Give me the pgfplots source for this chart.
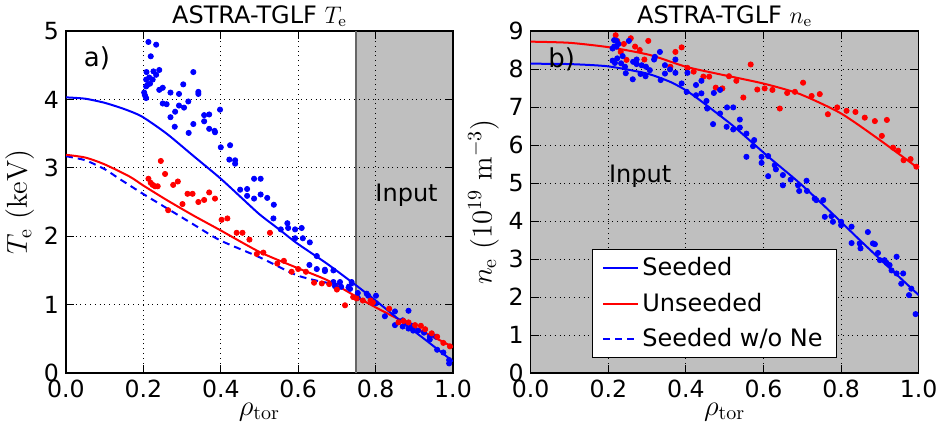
\documentclass[border=0pt]{standalone}
\usepackage[no-math]{fontspec}
\setmainfont{DejaVu Sans}
\usepackage{pgfplots}
\pgfplotsset{compat=1.18}
\definecolor{spangray}{gray}{0.75}
\pgfplotsset{
  myaxis/.style={
    scale only axis, height=171pt,
    xmin=0, xmax=1,
    xtick={0,0.2,0.4,0.6,0.8,1.0},
    xticklabel style={/pgf/number format/fixed, /pgf/number format/fixed zerofill, /pgf/number format/precision=1},
    /pgf/number format/assume math mode=true,
    tick align=inside, major tick length=4pt,
    tick style={black, line width=0.5pt},
    grid=major, major grid style={black, dotted, line width=0.5pt},
    axis line style={line width=0.7pt},
    ticklabel style={font=\fontsize{11.8}{14}\selectfont},
    title style={font=\fontsize{12}{14}\selectfont, yshift=-7.5pt},
    label style={font=\fontsize{14}{16}\selectfont},
    set layers,
  },
  sc/.style={only marks, mark=*, mark size=1.3pt, forget plot},
}
\begin{document}
\begin{tikzpicture}
\begin{axis}[myaxis, width=193.5pt, ymin=0, ymax=5, ytick={0,1,2,3,4,5},
  title={ASTRA-TGLF $T_\mathrm{e}$},
  xlabel={$\rho_\mathrm{tor}$},
  ylabel={$T_\mathrm{e}\ (\mathrm{keV})$},
  ylabel style={yshift=-2pt},
  xlabel style={yshift=4.5pt}]
\addplot[draw=none, fill=spangray, on layer=axis background, forget plot] coordinates {(0.75,0) (0.75,5) (1,5) (1,0)} -- cycle;
\addplot[black!60, line width=1pt, forget plot] coordinates {(0.75,0) (0.75,5)};
% blue data
\addplot[sc, blue] coordinates {
(0.213,4.84) (0.233,4.80) (0.219,4.63) (0.208,4.40) (0.226,4.41) (0.241,4.43) (0.233,4.36)
(0.215,4.32) (0.207,4.29) (0.224,4.29) (0.217,4.23) (0.207,4.19) (0.210,4.21) (0.202,4.10)
(0.204,4.06) (0.207,4.02) (0.241,4.14) (0.250,4.17) (0.270,4.10) (0.292,4.08) (0.303,4.22)
(0.329,4.40) (0.342,4.11) (0.342,4.08) (0.316,3.97) (0.250,3.94) (0.260,3.93) (0.292,3.91)
(0.305,3.88) (0.282,3.82) (0.270,3.74) (0.281,3.60) (0.329,3.64) (0.317,3.51) (0.357,3.77)
(0.370,3.78) (0.357,3.68) (0.370,3.57) (0.384,3.54) (0.385,3.52) (0.398,3.85) (0.424,3.33)
(0.400,3.30) (0.422,3.12) (0.437,3.11) (0.437,3.06) (0.486,2.84) (0.503,2.84) (0.450,2.68)
(0.468,2.69) (0.468,2.59) (0.486,2.55) (0.503,2.61) (0.520,2.56) (0.537,2.46) (0.536,2.26)
(0.555,2.10) (0.572,2.19) (0.574,2.12) (0.592,2.10) (0.609,2.12) (0.592,1.97) (0.612,1.97)
(0.630,1.91) (0.648,1.71) (0.629,1.58) (0.648,1.52) (0.669,1.51) (0.669,1.49) (0.691,1.50)
(0.691,1.33) (0.708,1.33) (0.695,1.27) (0.711,1.26) (0.730,1.25) (0.734,1.23) (0.754,1.17)
(0.754,1.10) (0.738,1.33) (0.777,1.16) (0.781,1.13) (0.801,1.13) (0.801,1.02) (0.824,0.83)
(0.850,0.90) (0.850,0.70) (0.870,0.77) (0.870,0.68) (0.885,0.91) (0.885,0.65) (0.893,0.69)
(0.897,0.69) (0.897,0.62) (0.910,0.62) (0.925,0.59) (0.940,0.53) (0.940,0.49) (0.956,0.53)
(0.959,0.34) (0.975,0.30) (0.990,0.19) (0.990,0.14)
};
% red data
\addplot[sc, red] coordinates {
(0.245,3.10) (0.256,2.91) (0.213,2.84) (0.219,2.78) (0.224,2.75) (0.230,2.73) (0.237,2.73)
(0.277,2.75) (0.289,2.80) (0.264,2.38) (0.301,2.47) (0.314,2.62) (0.327,2.62) (0.342,2.50)
(0.357,2.53) (0.370,2.64) (0.385,2.55) (0.402,2.24) (0.417,2.26) (0.441,2.05) (0.456,2.05)
(0.474,1.95) (0.493,1.74) (0.510,1.76) (0.527,2.05) (0.546,1.60) (0.563,1.64) (0.583,1.48)
(0.600,1.52) (0.620,1.48) (0.641,1.32) (0.661,1.31) (0.680,1.30) (0.700,1.22) (0.721,0.99)
(0.742,1.11) (0.751,1.09) (0.767,1.06) (0.787,1.06) (0.793,1.03) (0.835,0.94) (0.859,0.74)
(0.872,0.76) (0.885,0.74) (0.902,0.70) (0.917,0.69) (0.928,0.64) (0.945,0.58) (0.959,0.53)
(0.975,0.44) (0.992,0.39)
};
% model lines
\addplot[blue, dashed, dash pattern=on 3.5pt off 2.5pt, line width=1pt, smooth, tension=0.4] coordinates {
(0,3.17) (0.05,3.11) (0.10,2.98) (0.135,2.85) (0.196,2.63) (0.269,2.38) (0.33,2.17)
(0.398,1.94) (0.501,1.69) (0.596,1.43) (0.674,1.32) (0.75,1.28)
};
\addplot[red, line width=1pt, smooth, tension=0.4] coordinates {
(0,3.19) (0.05,3.15) (0.10,3.05) (0.165,2.87) (0.20,2.74) (0.26,2.53) (0.33,2.30)
(0.398,2.09) (0.50,1.77) (0.596,1.54) (0.674,1.36) (0.743,1.14) (0.80,0.96) (0.90,0.67) (1.0,0.38)
};
\addplot[blue, line width=1pt, smooth, tension=0.4] coordinates {
(0,4.03) (0.05,4.01) (0.10,3.95) (0.15,3.86) (0.196,3.75) (0.26,3.50) (0.33,3.17)
(0.398,2.85) (0.45,2.58) (0.50,2.32) (0.553,2.09) (0.596,1.90) (0.674,1.60) (0.743,1.31)
(0.80,1.06) (0.863,0.77) (0.93,0.48) (1.0,0.17)
};
\node[font=\fontsize{13}{15}\selectfont] at (axis cs:0.08,4.6) {a)};
\node[font=\fontsize{12}{14}\selectfont] at (axis cs:0.88,2.6) {Input};
\end{axis}

\begin{axis}[myaxis, at={(232.35pt,0)}, width=194pt, ymin=0, ymax=9, ytick={0,1,...,9},
  title={ASTRA-TGLF $n_\mathrm{e}$},
  xlabel={$\rho_\mathrm{tor}$},
  ylabel={$n_\mathrm{e}\ (10^{19}\ \mathrm{m}^{-3})$},
  ylabel style={yshift=-2pt},
  xlabel style={yshift=4.5pt},
  axis background/.style={fill=spangray},
  legend style={at={(rel axis cs:0.157,0.362)}, anchor=north west, draw=black, line width=0.5pt, fill=white,
    font=\fontsize{12}{14}\selectfont, inner xsep=5pt, inner ysep=2pt, row sep=3pt},
  legend cell align=left]
\addplot[sc, red] coordinates {
(0.219,8.89) (0.223,8.74) (0.240,8.66) (0.258,8.81) (0.269,8.59) (0.281,8.50) (0.303,8.74)
(0.293,8.25) (0.247,8.24) (0.232,8.45) (0.320,8.31) (0.360,8.06) (0.373,8.45) (0.389,8.57)
(0.404,8.03) (0.420,7.93) (0.445,7.80) (0.460,7.80) (0.477,7.51) (0.494,7.49) (0.511,7.81)
(0.530,7.69) (0.548,7.25) (0.567,8.12) (0.584,7.46) (0.603,7.49) (0.623,7.45) (0.642,6.96)
(0.661,7.37) (0.681,7.40) (0.702,7.64) (0.724,7.29) (0.745,7.34) (0.766,6.81) (0.790,6.99)
(0.814,6.90) (0.837,6.87) (0.861,6.72) (0.887,6.63) (0.918,6.66) (0.905,6.24) (0.934,5.93)
(0.947,5.85) (0.961,5.60) (0.979,5.63) (0.994,5.43)
};
\addplot[sc, blue] coordinates {
(0.215,8.76) (0.221,8.74) (0.215,8.59) (0.221,8.59) (0.211,8.54) (0.226,8.66) (0.253,8.74)
(0.211,8.22) (0.217,8.16) (0.223,8.28) (0.237,8.34) (0.233,8.15) (0.243,8.06) (0.245,7.89)
(0.263,7.73) (0.264,8.19) (0.273,8.25) (0.273,8.13) (0.286,8.10) (0.283,7.87) (0.296,7.81)
(0.297,8.06) (0.307,7.97) (0.318,8.25) (0.320,8.32) (0.333,8.45) (0.335,7.71) (0.346,7.88)
(0.346,8.10) (0.359,7.99) (0.373,8.25) (0.373,7.90) (0.389,7.62) (0.402,7.40) (0.404,7.90)
(0.426,7.58) (0.426,7.31) (0.440,7.36) (0.440,7.69) (0.453,7.16) (0.455,6.96) (0.470,6.55)
(0.472,7.37) (0.488,6.83) (0.488,7.45) (0.506,6.99) (0.522,6.99) (0.505,6.48) (0.522,6.41)
(0.539,6.67) (0.539,6.46) (0.556,6.30) (0.556,5.69) (0.573,5.97) (0.576,6.13) (0.595,5.69)
(0.595,5.53) (0.612,5.71) (0.612,5.18) (0.629,5.47) (0.632,5.36) (0.650,5.21) (0.650,4.94)
(0.670,5.09) (0.689,4.94) (0.692,4.79) (0.711,5.06) (0.712,4.79) (0.732,4.59) (0.736,4.55)
(0.754,4.55) (0.758,4.11) (0.775,4.13) (0.779,3.98) (0.800,3.98) (0.800,3.89) (0.827,3.85)
(0.827,3.42) (0.848,3.41) (0.850,3.28) (0.869,3.71) (0.882,3.41) (0.887,3.39) (0.895,3.16)
(0.900,2.97) (0.912,2.97) (0.917,2.90) (0.925,2.84) (0.930,2.70) (0.943,3.06) (0.943,2.62)
(0.955,2.35) (0.960,2.62) (0.975,2.05) (0.981,2.22) (0.992,1.55)
};
\addplot[blue, line width=1pt, smooth, tension=0.4] coordinates {
(0,8.14) (0.1,8.13) (0.2,8.07) (0.3,7.88) (0.36,7.66) (0.40,7.44) (0.436,7.18) (0.522,6.50)
(0.608,5.73) (0.694,4.99) (0.779,4.18) (0.85,3.48) (0.90,3.00) (1.0,2.05)
};
\addlegendentry{Seeded}
\addplot[red, line width=1pt, smooth, tension=0.4] coordinates {
(0,8.72) (0.1,8.69) (0.204,8.57) (0.307,8.37) (0.40,8.06) (0.479,7.88) (0.599,7.62)
(0.694,7.34) (0.80,6.83) (0.90,6.13) (1.0,5.38)
};
\addlegendentry{Unseeded}
\addlegendimage{blue, dashed, dash pattern=on 3.5pt off 2.5pt, line width=1pt}
\addlegendentry{Seeded w/o Ne}
\node[font=\fontsize{13}{15}\selectfont] at (axis cs:0.08,8.26) {b)};
\node[font=\fontsize{12}{14}\selectfont] at (axis cs:0.282,5.18) {Input};
\end{axis}
\pgfresetboundingbox
\path (-33pt,-26pt) rectangle (438.5pt,186.5pt);
\end{tikzpicture}
\end{document}
